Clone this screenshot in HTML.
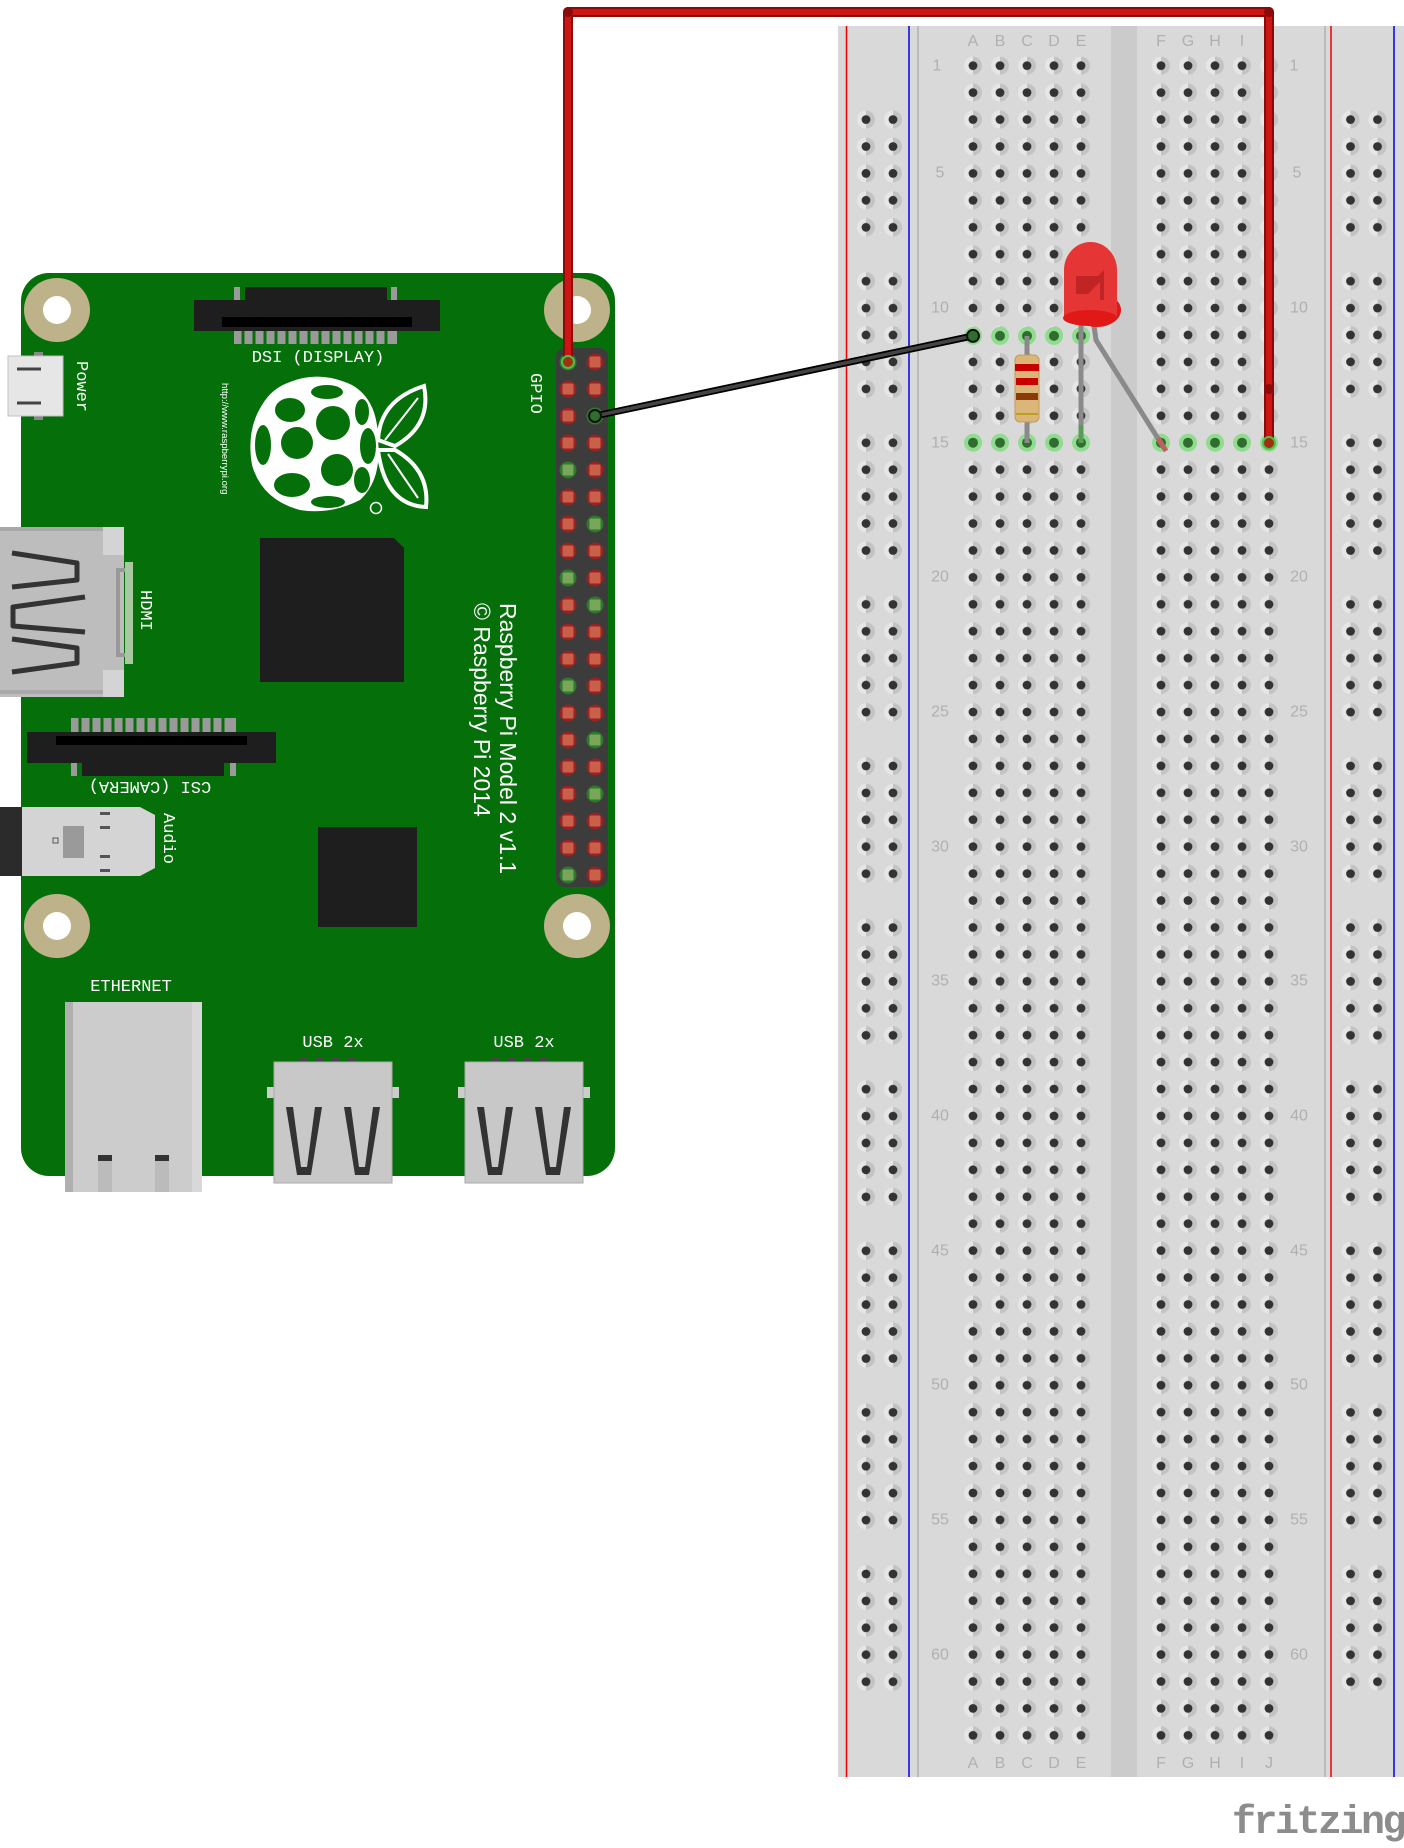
<!DOCTYPE html>
<html><head><meta charset="utf-8"><style>
html,body{margin:0;padding:0;background:#fff;}
svg{display:block;}
.mono{font-family:"Liberation Mono",monospace;fill:#fff;font-size:17px;}
.rl{font-family:"Liberation Sans",sans-serif;fill:#b0b0b0;font-size:16px;}
</style></head><body>
<svg width="1404" height="1848" viewBox="0 0 1404 1848" xmlns="http://www.w3.org/2000/svg">
<defs>
<g id="h"><path d="M0,-9 A9,9 0 0 0 0,9 Z" fill="#e6e6e6"/><path d="M0,-9 A9,9 0 0 1 0,9 Z" fill="#c3c3c3"/><circle r="4.4" fill="#333"/></g>
<g id="g"><circle r="9" fill="#8fdc8f"/><circle r="5" fill="#2f6e2f"/></g>
<pattern id="pm" patternUnits="userSpaceOnUse" x="959.5" y="52.2" width="27" height="26.93"><use href="#h" x="13.5" y="13.47"/></pattern>
<pattern id="pr" patternUnits="userSpaceOnUse" x="852.5" y="106.1" width="27" height="161.6">
<use href="#h" x="13.5" y="13.47"/><use href="#h" x="13.5" y="40.4"/><use href="#h" x="13.5" y="67.3"/><use href="#h" x="13.5" y="94.2"/><use href="#h" x="13.5" y="121.2"/></pattern>
<pattern id="pr2" patternUnits="userSpaceOnUse" x="1337" y="106.1" width="27" height="161.6">
<use href="#h" x="13.5" y="13.47"/><use href="#h" x="13.5" y="40.4"/><use href="#h" x="13.5" y="67.3"/><use href="#h" x="13.5" y="94.2"/><use href="#h" x="13.5" y="121.2"/></pattern>
<pattern id="pm2" patternUnits="userSpaceOnUse" x="1147.5" y="52.2" width="27" height="26.93"><use href="#h" x="13.5" y="13.47"/></pattern>
<g id="pr_"><circle r="8.5" fill="#9a2222"/><rect x="-5.5" y="-5.5" width="11" height="11" rx="1.5" fill="#c8604a"/></g>
<g id="pg_"><circle r="8.5" fill="#2c7a2c"/><rect x="-5.5" y="-5.5" width="11" height="11" rx="1.5" fill="#7aa65a"/></g>
</defs>

<!-- Breadboard -->
<rect x="838" y="26" width="566" height="1751" fill="#d9d9d9"/>
<rect x="1111" y="26" width="26" height="1751" fill="#cbcbcb"/>
<line x1="846.5" y1="26" x2="846.5" y2="1777" stroke="#e00" stroke-width="1.5"/>
<line x1="909" y1="26" x2="909" y2="1777" stroke="#00e" stroke-width="1.5"/>
<line x1="918" y1="26" x2="918" y2="1777" stroke="#bbb" stroke-width="2"/>
<line x1="1325" y1="26" x2="1325" y2="1777" stroke="#bbb" stroke-width="2"/>
<line x1="1331" y1="26" x2="1331" y2="1777" stroke="#e00" stroke-width="1.5"/>
<line x1="1394" y1="26" x2="1394" y2="1777" stroke="#00e" stroke-width="1.5"/>
<rect x="959.5" y="52.2" width="135" height="1696.6" fill="url(#pm)"/>
<rect x="1147.5" y="52.2" width="135" height="1696.6" fill="url(#pm2)"/>
<rect x="852.5" y="106.1" width="54" height="1589" fill="url(#pr)"/>
<rect x="1337" y="106.1" width="54" height="1589" fill="url(#pr2)"/>
<!-- green highlighted holes -->
<use href="#g" x="973" y="335.9"/><use href="#g" x="1000" y="335.9"/><use href="#g" x="1027" y="335.9"/><use href="#g" x="1054" y="335.9"/><use href="#g" x="1081" y="335.9"/>
<use href="#g" x="973" y="442.7"/><use href="#g" x="1000" y="442.7"/><use href="#g" x="1027" y="442.7"/><use href="#g" x="1054" y="442.7"/><use href="#g" x="1081" y="442.7"/>
<use href="#g" x="1161" y="442.7"/><use href="#g" x="1188" y="442.7"/><use href="#g" x="1215" y="442.7"/><use href="#g" x="1242" y="442.7"/><use href="#g" x="1269" y="442.7"/>
<!-- letters -->
<g class="rl" text-anchor="middle">
<text x="973" y="46">A</text><text x="1000" y="46">B</text><text x="1027" y="46">C</text><text x="1054" y="46">D</text><text x="1081" y="46">E</text>
<text x="1161" y="46">F</text><text x="1188" y="46">G</text><text x="1215" y="46">H</text><text x="1242" y="46">I</text><text x="1269" y="46">J</text>
<text x="973" y="1768">A</text><text x="1000" y="1768">B</text><text x="1027" y="1768">C</text><text x="1054" y="1768">D</text><text x="1081" y="1768">E</text>
<text x="1161" y="1768">F</text><text x="1188" y="1768">G</text><text x="1215" y="1768">H</text><text x="1242" y="1768">I</text><text x="1269" y="1768">J</text>
</g>
<g class="rl" text-anchor="middle" dominant-baseline="central">
<text x="937" y="66">1</text><text x="940" y="173">5</text><text x="940" y="308">10</text><text x="940" y="443">15</text><text x="940" y="577">20</text><text x="940" y="712">25</text><text x="940" y="847">30</text><text x="940" y="981">35</text><text x="940" y="1116">40</text><text x="940" y="1251">45</text><text x="940" y="1385">50</text><text x="940" y="1520">55</text><text x="940" y="1655">60</text>
<text x="1294" y="66">1</text><text x="1297" y="173">5</text><text x="1299" y="308">10</text><text x="1299" y="443">15</text><text x="1299" y="577">20</text><text x="1299" y="712">25</text><text x="1299" y="847">30</text><text x="1299" y="981">35</text><text x="1299" y="1116">40</text><text x="1299" y="1251">45</text><text x="1299" y="1385">50</text><text x="1299" y="1520">55</text><text x="1299" y="1655">60</text>
</g>
<text x="1232" y="1833" font-family="Liberation Mono,monospace" font-weight="bold" font-size="40" letter-spacing="-2.5" fill="#8c8c8c">fritzing</text>

<!-- Raspberry Pi board -->
<rect x="21" y="273" width="594" height="903" rx="28" fill="#057009"/>
<g fill="#bdb289"><ellipse cx="57" cy="310" rx="33" ry="32"/><ellipse cx="577" cy="310" rx="33" ry="32"/><ellipse cx="57" cy="926" rx="33" ry="32"/><ellipse cx="577" cy="926" rx="33" ry="32"/></g>
<g fill="#fff"><ellipse cx="57" cy="310" rx="14" ry="14"/><ellipse cx="577" cy="310" rx="14" ry="14"/><ellipse cx="57" cy="926" rx="14" ry="14"/><ellipse cx="577" cy="926" rx="14" ry="14"/></g>
<!-- DSI -->
<g fill="#9a9a9a"><rect x="234" y="287" width="6" height="14"/><rect x="391" y="287" width="6" height="14"/></g>
<rect x="245" y="287" width="142" height="14" fill="#1e1e1e"/>
<rect x="194" y="300" width="246" height="31" fill="#1e1e1e"/>
<rect x="222" y="317" width="190" height="10" fill="#000"/>
<g fill="#9a9a9a">
<rect x="234" y="331" width="163" height="13"/>
</g>
<g stroke="#057009" stroke-width="3"><line x1="243" y1="331" x2="243" y2="344"/><line x1="254" y1="331" x2="254" y2="344"/><line x1="265" y1="331" x2="265" y2="344"/><line x1="276" y1="331" x2="276" y2="344"/><line x1="287" y1="331" x2="287" y2="344"/><line x1="298" y1="331" x2="298" y2="344"/><line x1="309" y1="331" x2="309" y2="344"/><line x1="320" y1="331" x2="320" y2="344"/><line x1="331" y1="331" x2="331" y2="344"/><line x1="342" y1="331" x2="342" y2="344"/><line x1="353" y1="331" x2="353" y2="344"/><line x1="364" y1="331" x2="364" y2="344"/><line x1="375" y1="331" x2="375" y2="344"/><line x1="386" y1="331" x2="386" y2="344"/></g>
<text class="mono" x="318" y="362" text-anchor="middle" font-size="18">DSI (DISPLAY)</text>
<!-- Power -->
<rect x="34" y="352" width="9" height="68" fill="#888"/>
<rect x="8" y="356" width="55" height="60" fill="#e6e6e6" stroke="#c0c0c0"/>
<line x1="17" y1="369" x2="41" y2="369" stroke="#444" stroke-width="3"/>
<line x1="17" y1="403" x2="41" y2="403" stroke="#444" stroke-width="3"/>
<text class="mono" transform="translate(77,361) rotate(90)">Power</text>
<text transform="translate(222,383) rotate(90)" font-family="Liberation Sans,sans-serif" font-size="9.6" fill="#fff">http://www.raspberrypi.org</text>
<text class="mono" transform="translate(531,373) rotate(90)">GPIO</text>
<!-- Raspberry logo -->
<path d="M290,382 Q320,370 352,385 Q378,400 378,440 Q382,480 360,500 Q330,515 300,510 Q262,500 252,465 Q246,430 262,405 Q272,388 290,382 Z" fill="#fff"/>
<g fill="#057009">
<circle cx="297" cy="443" r="16"/><circle cx="333" cy="423" r="17"/><circle cx="337" cy="470" r="16"/>
<ellipse cx="290" cy="410" rx="15" ry="12"/><ellipse cx="327" cy="392" rx="16" ry="7"/><ellipse cx="263" cy="445" rx="8" ry="20"/>
<ellipse cx="292" cy="485" rx="18" ry="12"/><ellipse cx="328" cy="502" rx="17" ry="6"/><ellipse cx="368" cy="446" rx="8" ry="18"/>
<ellipse cx="362" cy="412" rx="7" ry="13"/><ellipse cx="362" cy="480" rx="8" ry="13"/>
</g>
<path d="M378,440 Q380,400 424,386 Q432,425 395,446 Z" fill="#057009" stroke="#fff" stroke-width="4"/>
<path d="M378,450 Q385,505 426,507 Q430,470 395,450 Z" fill="#057009" stroke="#fff" stroke-width="4"/>
<path d="M385,440 L418,398 M388,454 L418,498" stroke="#fff" stroke-width="2"/>
<circle cx="376" cy="508" r="5.5" fill="none" stroke="#fff" stroke-width="1.5"/>
<!-- chips -->
<path d="M260,538 H394 L404,548 V682 H260 Z" fill="#1e1e1e"/>
<rect x="318" y="827" width="99" height="100" fill="#1e1e1e"/>
<!-- HDMI -->
<path d="M0,527 H119 Q124,527 124,532 V692 Q124,697 119,697 H0 Z" fill="#bdbdbd"/>
<rect x="103" y="527" width="21" height="28" fill="#d4d4d4"/><rect x="103" y="670" width="21" height="27" fill="#d4d4d4"/>
<rect x="0" y="527" width="103" height="4" fill="#a8a8a8"/><rect x="0" y="690" width="103" height="4" fill="#a8a8a8"/>
<rect x="125" y="562" width="8" height="102" fill="#a8c8a0"/>
<path d="M125,570 H118 V655 H125" fill="none" stroke="#999" stroke-width="4"/>
<g fill="none" stroke="#333" stroke-width="5" stroke-linejoin="round">
<path d="M12,553 L77,563 L77,580 L12,587"/><path d="M85,597 L13,607 L13,626 L85,632"/><path d="M12,639 L77,648 L77,663 L12,672"/></g>
<text class="mono" transform="translate(141,590) rotate(90)">HDMI</text>
<!-- CSI -->
<rect x="71" y="718" width="165" height="14" fill="#9a9a9a"/>
<g stroke="#057009" stroke-width="3"><line x1="80" y1="718" x2="80" y2="732"/><line x1="91" y1="718" x2="91" y2="732"/><line x1="102" y1="718" x2="102" y2="732"/><line x1="113" y1="718" x2="113" y2="732"/><line x1="124" y1="718" x2="124" y2="732"/><line x1="135" y1="718" x2="135" y2="732"/><line x1="146" y1="718" x2="146" y2="732"/><line x1="157" y1="718" x2="157" y2="732"/><line x1="168" y1="718" x2="168" y2="732"/><line x1="179" y1="718" x2="179" y2="732"/><line x1="190" y1="718" x2="190" y2="732"/><line x1="201" y1="718" x2="201" y2="732"/><line x1="212" y1="718" x2="212" y2="732"/><line x1="223" y1="718" x2="223" y2="732"/></g>
<rect x="27" y="732" width="249" height="31" fill="#1e1e1e"/>
<rect x="56" y="736" width="191" height="9" fill="#000"/>
<rect x="71" y="763" width="6" height="13" fill="#9a9a9a"/><rect x="230" y="763" width="6" height="13" fill="#9a9a9a"/>
<rect x="82" y="763" width="142" height="13" fill="#1e1e1e"/>
<text class="mono" transform="translate(150,782) rotate(180)" text-anchor="middle" font-size="18">CSI (CAMERA)</text>
<!-- Audio -->
<path d="M22,807 H140 L155,815 V868 L140,876 H22 Z" fill="#d4d4d4"/>
<rect x="0" y="807" width="22" height="69" fill="#2b2b2b"/>
<rect x="63" y="826" width="21" height="32" fill="#9a9a9a"/>
<rect x="53" y="838" width="5" height="5" fill="none" stroke="#555"/>
<g fill="#555"><rect x="100" y="812" width="10" height="3"/><rect x="100" y="826" width="10" height="3"/><rect x="100" y="855" width="10" height="3"/><rect x="100" y="869" width="10" height="3"/></g>
<text class="mono" transform="translate(164,813) rotate(90)" font-size="18">Audio</text>
<!-- Ethernet -->
<text class="mono" x="131" y="991" text-anchor="middle" font-size="18">ETHERNET</text>
<rect x="65" y="1002" width="137" height="190" fill="#cccccc"/>
<rect x="65" y="1002" width="8" height="190" fill="#b0b0b0"/><rect x="192" y="1002" width="10" height="190" fill="#d8d8d8"/>
<rect x="98" y="1155" width="14" height="37" fill="#bbb"/><rect x="98" y="1155" width="14" height="6" fill="#333"/>
<rect x="155" y="1155" width="14" height="37" fill="#bbb"/><rect x="155" y="1155" width="14" height="6" fill="#333"/>
<!-- USB -->
<g id="usb">
<text class="mono" x="333" y="1047" text-anchor="middle" font-size="18">USB 2x</text>
<g fill="#444"><rect x="300" y="1058" width="8" height="4"/><rect x="316" y="1058" width="8" height="4"/><rect x="332" y="1058" width="8" height="4"/><rect x="348" y="1058" width="8" height="4"/></g>
<rect x="267" y="1087" width="8" height="11" fill="#ccc"/><rect x="391" y="1087" width="8" height="11" fill="#ccc"/>
<rect x="274" y="1062" width="118" height="121" fill="#c8c8c8" stroke="#aaa"/>
<polygon points="286,1107 297,1175 311,1175 322,1107" fill="#333"/><polygon points="293,1107 301,1167 307,1167 315,1107" fill="#c8c8c8"/>
<polygon points="344,1107 355,1175 369,1175 380,1107" fill="#333"/><polygon points="351,1107 359,1167 365,1167 373,1107" fill="#c8c8c8"/>
</g>
<use href="#usb" x="191"/>
<!-- big text -->
<text transform="translate(500,603) rotate(90)" font-family="Liberation Sans,sans-serif" font-size="23" fill="#fff">Raspberry Pi Model 2 v1.1</text>
<text transform="translate(474,603) rotate(90)" font-family="Liberation Sans,sans-serif" font-size="23" fill="#fff">© Raspberry Pi 2014</text>
<!-- GPIO header -->
<rect x="556" y="348" width="52" height="539" rx="9" fill="#3c3c3c"/>
<g id="c1">
<use href="#pg_" x="568" y="362"/><use href="#pr_" x="568" y="389"/><use href="#pr_" x="568" y="416"/><use href="#pr_" x="568" y="443"/><use href="#pg_" x="568" y="470"/>
<use href="#pr_" x="568" y="497"/><use href="#pr_" x="568" y="524"/><use href="#pr_" x="568" y="551"/><use href="#pg_" x="568" y="578"/><use href="#pr_" x="568" y="605"/>
<use href="#pr_" x="568" y="632"/><use href="#pr_" x="568" y="659"/><use href="#pg_" x="568" y="686"/><use href="#pr_" x="568" y="713"/><use href="#pr_" x="568" y="740"/>
<use href="#pr_" x="568" y="767"/><use href="#pr_" x="568" y="794"/><use href="#pr_" x="568" y="821"/><use href="#pr_" x="568" y="848"/><use href="#pg_" x="568" y="875"/>
<use href="#pr_" x="595" y="362"/><use href="#pr_" x="595" y="389"/><use href="#pg_" x="595" y="416"/><use href="#pr_" x="595" y="443"/><use href="#pr_" x="595" y="470"/>
<use href="#pr_" x="595" y="497"/><use href="#pg_" x="595" y="524"/><use href="#pr_" x="595" y="551"/><use href="#pr_" x="595" y="578"/><use href="#pg_" x="595" y="605"/>
<use href="#pr_" x="595" y="632"/><use href="#pr_" x="595" y="659"/><use href="#pr_" x="595" y="686"/><use href="#pr_" x="595" y="713"/><use href="#pg_" x="595" y="740"/>
<use href="#pr_" x="595" y="767"/><use href="#pg_" x="595" y="794"/><use href="#pr_" x="595" y="821"/><use href="#pr_" x="595" y="848"/><use href="#pr_" x="595" y="875"/>
</g>

<!-- Resistor -->
<line x1="1027" y1="336" x2="1027" y2="443" stroke="#8a8a8a" stroke-width="5"/>
<rect x="1015" y="355" width="24" height="67" rx="5" fill="#dcb678" stroke="#c39a5a"/>
<rect x="1015" y="364" width="24" height="7" fill="#c80000"/>
<rect x="1016" y="378" width="22" height="7" fill="#c80000"/>
<rect x="1016" y="393" width="22" height="7" fill="#8b3a0a"/>
<rect x="1016" y="413" width="22" height="2" fill="#b8a020"/>

<!-- LED -->
<line x1="1081" y1="325" x2="1081" y2="443" stroke="#8a8a8a" stroke-width="5"/>
<line x1="1081" y1="425" x2="1081" y2="443" stroke="#5a9a5a" stroke-width="5"/>
<polyline points="1094,326 1096,340 1164,448" fill="none" stroke="#8a8a8a" stroke-width="5"/>
<line x1="1158" y1="438" x2="1166" y2="451" stroke="#c06060" stroke-width="5"/>
<ellipse cx="1097" cy="310" rx="24" ry="17" fill="#e01818"/>
<path d="M1064,318 V270 A26.5,28 0 0 1 1117,270 V318 Z" fill="#e63535"/>
<ellipse cx="1090" cy="318" rx="27" ry="8" fill="#e01818"/>
<path d="M1076,276 H1098 L1104,270 V300 H1100 V282 L1088,294 H1076 Z" fill="#b82020" opacity="0.8"/>

<!-- Black wire -->
<line x1="595" y1="416" x2="973" y2="335.9" stroke="#000" stroke-width="7" stroke-linecap="round"/>
<line x1="595" y1="416" x2="973" y2="335.9" stroke="#444" stroke-width="3.5" stroke-linecap="round"/>
<circle cx="595" cy="416" r="6" fill="#2f6e2f" stroke="#111" stroke-width="2"/>
<circle cx="973" cy="335.9" r="6" fill="#2f6e2f" stroke="#111" stroke-width="2"/>
<!-- Red wire -->
<path d="M568,362 V12 H1269 V443" fill="none" stroke="#8b0a0a" stroke-width="10" stroke-linejoin="round"/>
<path d="M568,362 V12 H1269 V443" fill="none" stroke="#cc1515" stroke-width="6" stroke-linejoin="round"/>
<circle cx="568" cy="12" r="5" fill="#8b0a0a"/><circle cx="1269" cy="12" r="5" fill="#8b0a0a"/><circle cx="1269" cy="389" r="5" fill="#8b0a0a"/>
<circle cx="568" cy="362" r="6" fill="#a03010" stroke="#4cc04c" stroke-width="2"/>
<circle cx="1269" cy="443" r="6" fill="#a03010" stroke="#4cc04c" stroke-width="2"/>
</svg>
</body></html>
